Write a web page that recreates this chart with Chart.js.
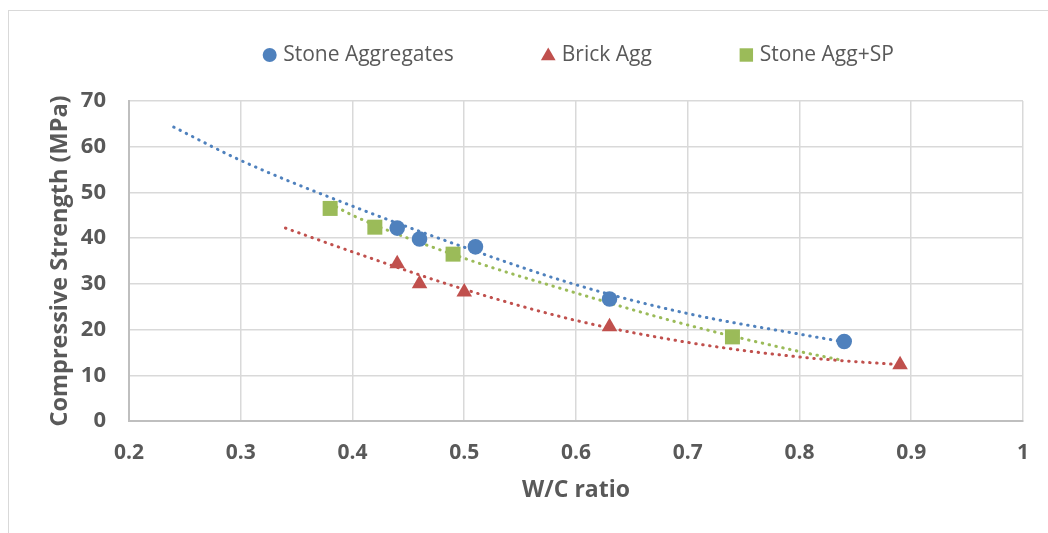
<!DOCTYPE html>
<html>
<head>
<meta charset="utf-8">
<script src="https://cdn.jsdelivr.net/npm/chart.js@4.4.1/dist/chart.umd.min.js"></script>
<style>
  html, body { margin: 0; padding: 0; background: #ffffff; }
  #wrap { position: relative; width: 1048px; height: 533px; overflow: hidden; }
  #frame { position: absolute; left: 8px; top: 10px; width: 1100px; height: 600px;
           border-left: 1px solid #d9d9d9; border-top: 1px solid #d9d9d9; }
  canvas { position: absolute; left: 0; top: 0; }
</style>
</head>
<body>
<div id="wrap">
  <div id="frame"></div>
  <canvas id="c" width="1048" height="533"></canvas>
</div>
<script>
// Series labels
const seriesNames = ["Stone Aggregates", "Brick Agg", "Stone Agg+SP"];

// Observed points (W/C ratio, compressive strength MPa)
const stoneX = [0.44, 0.46, 0.51, 0.63, 0.84];
const stoneY = [42.2, 39.8, 38.1, 26.7, 17.4];

const brickX = [0.44, 0.46, 0.50, 0.63, 0.89];
const brickY = [34.4, 30.0, 28.2, 20.6, 12.3];

const spX = [0.38, 0.42, 0.49, 0.74];
const spY = [46.5, 42.4, 36.5, 18.4];

// Trendline values
const stoneTrendX = [0.24, 0.30, 0.40, 0.50, 0.60, 0.70, 0.80, 0.84];
const stoneTrendY = [64.3, 57.0, 47.0, 38.0, 29.8, 23.5, 19.0, 17.3];

const brickTrendX = [0.34, 0.40, 0.50, 0.60, 0.70, 0.80, 0.89];
const brickTrendY = [42.2, 37.0, 28.8, 22.0, 17.2, 14.0, 12.3];

const spTrendX = [0.38, 0.40, 0.50, 0.60, 0.70, 0.80, 0.84];
const spTrendY = [47.6, 45.0, 35.6, 28.0, 21.0, 15.2, 13.2];

// Axis ticks
const xTicks = [0.2, 0.3, 0.4, 0.5, 0.6, 0.7, 0.8, 0.9, 1];
const yTicks = [0, 10, 20, 30, 40, 50, 60, 70];

const colors = ["#4F81BD", "#C0504D", "#9BBB59"];
const styles = ["circle", "triangle", "rect"];

function pts(xs, ys) { return xs.map((x, i) => ({ x: x, y: ys[i] })); }

const markerSets = [[stoneX, stoneY], [brickX, brickY], [spX, spY]];
const trendSets = [[stoneTrendX, stoneTrendY], [brickTrendX, brickTrendY], [spTrendX, spTrendY]];
const radii = [7.8, 9, 10.6];
const legendRadii = [7, 8.5, 9.5];

const datasets = [];
markerSets.forEach((s, i) => {
  datasets.push({
    label: seriesNames[i],
    data: pts(s[0], s[1]),
    showLine: false,
    pointStyle: styles[i],
    pointRadius: radii[i],
    pointHoverRadius: radii[i],
    backgroundColor: colors[i],
    borderColor: colors[i],
    pointBorderWidth: 0,
    order: 1
  });
});
trendSets.forEach((s, i) => {
  datasets.push({
    label: "trend" + i,
    data: pts(s[0], s[1]),
    showLine: true,
    pointRadius: 0,
    borderColor: colors[i],
    borderWidth: 3,
    borderDash: [0.5, 6.5],
    borderCapStyle: "round",
    cubicInterpolationMode: "monotone",
    fill: false,
    order: 2
  });
});

const FAMILY = "'Open Sans', Lato, sans-serif";

// Legend drawn on the canvas, centred on the plot area
const legendPlugin = {
  id: "topLegend",
  afterDraw(chart) {
    const ctx = chart.ctx;
    const area = chart.chartArea;
    const fontSize = 21;
    const markerW = 15, markerGap = 6, itemGap = 87;
    const cy = 55;
    ctx.save();
    ctx.font = fontSize + "px " + FAMILY;
    const widths = seriesNames.map(t => markerW + markerGap + ctx.measureText(t).width);
    const total = widths.reduce((a, b) => a + b, 0) + itemGap * (seriesNames.length - 1);
    let x = (area.left + area.right) / 2 - total / 2 + 2;
    seriesNames.forEach((name, i) => {
      ctx.fillStyle = colors[i];
      ctx.strokeStyle = colors[i];
      Chart.helpers.drawPoint(ctx, { pointStyle: styles[i], radius: legendRadii[i], borderWidth: 0 }, x + markerW / 2, cy + (styles[i] === "triangle" ? 1 : 0));
      ctx.fillStyle = "#595959";
      ctx.textBaseline = "middle";
      ctx.textAlign = "left";
      ctx.fillText(name, x + markerW + markerGap, cy);
      x += widths[i] + itemGap;
    });
    ctx.restore();
  }
};

new Chart(document.getElementById("c"), {
  type: "scatter",
  data: { datasets: datasets },
  plugins: [legendPlugin],
  options: {
    responsive: false,
    animation: false,
    devicePixelRatio: 1,
    layout: { padding: { left: 45, right: 23, top: 101, bottom: 0 } },
    plugins: {
      tooltip: { enabled: false },
      legend: { display: false }
    },
    scales: {
      x: {
        type: "linear",
        min: 0.2,
        max: 1,
        afterBuildTicks: (scale) => { scale.ticks = xTicks.map(v => ({ value: v })); },
        afterFit: (scale) => { scale.height = 112; },
        grid: { color: "#d9d9d9", lineWidth: 1.5, drawTicks: false },
        border: { color: "#bfbfbf", width: 2 },
        ticks: { color: "#595959", font: { family: FAMILY, size: 21, weight: "bold" }, padding: 19,
                 callback: (v) => String(Math.round(v * 10) / 10) },
        title: { display: true, text: "W/C ratio", color: "#595959",
                 font: { family: FAMILY, size: 23, weight: "bold" }, padding: { top: 4, bottom: 29 } }
      },
      y: {
        type: "linear",
        min: 0,
        max: 70,
        afterBuildTicks: (scale) => { scale.ticks = yTicks.map(v => ({ value: v })); },
        afterFit: (scale) => { scale.width = 84; },
        grid: { color: "#d9d9d9", lineWidth: 1.5, drawTicks: false },
        border: { color: "#bfbfbf", width: 2 },
        ticks: { color: "#595959", font: { family: FAMILY, size: 22, weight: "bold" }, padding: 23 },
        title: { display: true, text: "Compressive Strength (MPa)", color: "#595959",
                 font: { family: FAMILY, size: 23.5, weight: "bold" }, padding: { top: 1, bottom: 0 } }
      }
    }
  }
});
</script>
</body>
</html>
